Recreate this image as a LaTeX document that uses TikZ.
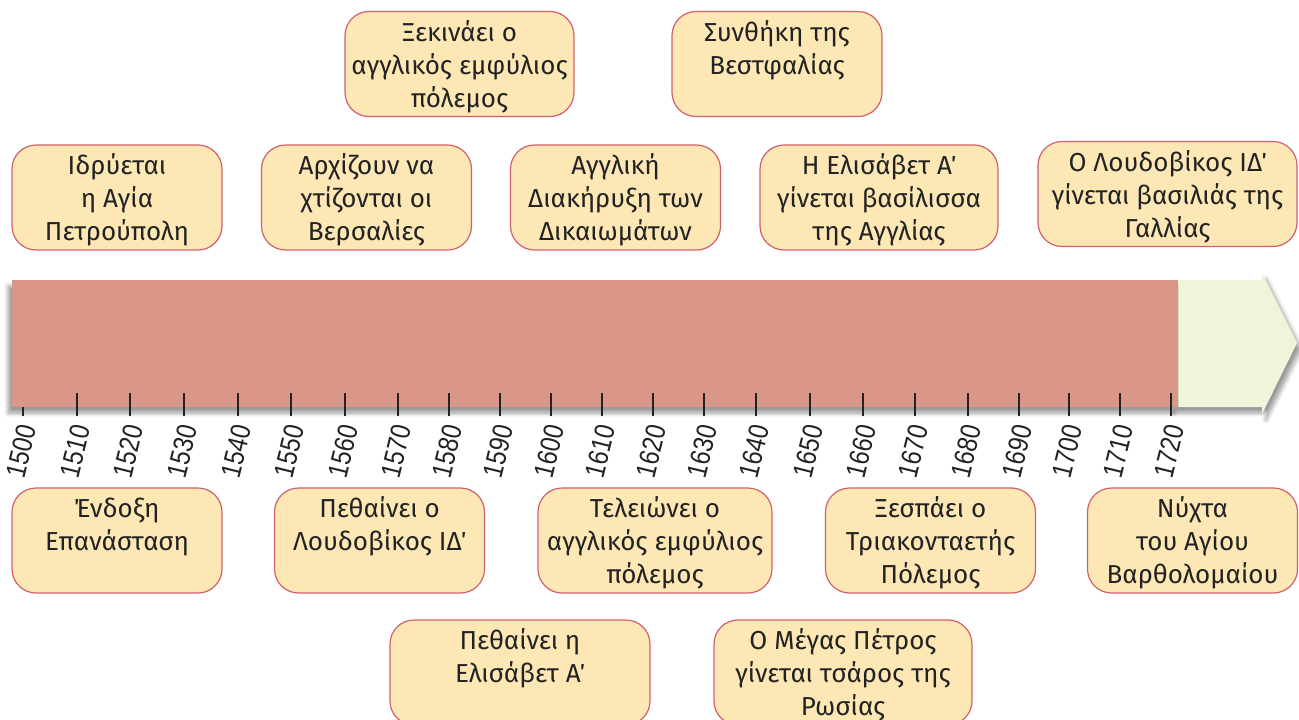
\documentclass[tikz,border=0pt]{standalone}
\usepackage{fontspec}
\setmainfont{Fira Sans}
\newfontfamily\yearfont{Liberation Sans}[FakeStretch=0.85]
\usetikzlibrary{positioning,shadows.blur}
\definecolor{barred}{HTML}{DB968A}
\definecolor{bargreen}{HTML}{EEF5DA}
\definecolor{boxfill}{HTML}{FDE8B5}
\definecolor{boxline}{HTML}{D0606C}
\definecolor{ink}{HTML}{222222}
\tikzset{
  evbox/.style = {draw=boxline, fill=boxfill, line width=0.6pt,
                  rounded corners=12pt, minimum width=#1,
                  minimum height=52.5pt, inner sep=0pt},
  evbox/.default = 105pt,
  evtext/.style = {align=center, text=ink, inner sep=0pt,
                   font=\fontsize{13}{16.5}\selectfont},
  tick/.style = {draw=ink, line width=0.7pt},
  year/.style = {font=\yearfont\fontsize{14}{14}\selectfont, text=ink,
                 anchor=east, yshift=-4.5pt, xshift=2.5pt, rotate=76,
                 inner sep=0pt}
}

\begin{document}
\begin{tikzpicture}[x=0.5pt, y=-0.5pt]
	\def \top{3.4pt}
	\useasboundingbox (0,0) rectangle (1299,719);

	% Bar
	\fill[bargreen, blur shadow={shadow xshift=2pt, shadow yshift=-3pt, shadow blur steps=6}]
		(1170,280) -- (1262,280) -- (1262,273) -- (1297,343) -- (1262,414) -- (1262,407) -- (1170,407) -- cycle;
	\fill[barred, blur shadow={shadow xshift=-2pt, shadow yshift=-3pt, shadow blur steps=6}]
		(12,280) rectangle (1178,407);

	% Ticks
	\draw[tick] (23,407)   -- (23,416)   node[year] (y1500) {1500};
	\draw[tick] (77,393)   -- (77,416)   node[year] (y1510) {1510};
	\draw[tick] (130,393)  -- (130,416)  node[year] (y1520) {1520};
	\draw[tick] (184,393)  -- (184,416)  node[year] (y1530) {1530};
	\draw[tick] (238,393)  -- (238,416)  node[year] (y1540) {1540};
	\draw[tick] (291,393)  -- (291,416)  node[year] (y1550) {1550};
	\draw[tick] (345,393)  -- (345,416)  node[year] (y1560) {1560};
	\draw[tick] (398,393)  -- (398,416)  node[year] (y1570) {1570};
	\draw[tick] (449,393)  -- (449,416)  node[year] (y1580) {1580};
	\draw[tick] (500,393)  -- (500,416)  node[year] (y1590) {1590};
	\draw[tick] (551,393)  -- (551,416)  node[year] (y1600) {1600};
	\draw[tick] (602,393)  -- (602,416)  node[year] (y1610) {1610};
	\draw[tick] (653,393)  -- (653,416)  node[year] (y1620) {1620};
	\draw[tick] (704,393)  -- (704,416)  node[year] (y1630) {1630};
	\draw[tick] (756,393)  -- (756,416)  node[year] (y1640) {1640};
	\draw[tick] (810,393)  -- (810,416)  node[year] (y1650) {1650};
	\draw[tick] (863,393)  -- (863,416)  node[year] (y1660) {1660};
	\draw[tick] (915,393)  -- (915,416)  node[year] (y1670) {1670};
	\draw[tick] (968,393)  -- (968,416)  node[year] (y1680) {1680};
	\draw[tick] (1019,393) -- (1019,416) node[year] (y1690) {1690};
	\draw[tick] (1069,393) -- (1069,416) node[year] (y1700) {1700};
	\draw[tick] (1120,393) -- (1120,416) node[year] (y1710) {1710};
	\draw[tick] (1171,393) -- (1171,416) node[year] (y1720) {1720};

	% Events above
	\node[evbox] (petroupoli) at (117,197.5) {};
	\node[evtext, below=\top of petroupoli.north] (t-petroupoli) {\strut Ιδρύεται\\η Αγία\\Πετρούπολη};
	\node[evbox] (versailles) at (366.5,197.5) {};
	\node[evtext, below=\top of versailles.north] (t-versailles) {\strut Αρχίζουν να\\χτίζονται οι\\Βερσαλίες};
	\node[evbox] (diakiryxi) at (615.5,197.5) {};
	\node[evtext, below=\top of diakiryxi.north] (t-diakiryxi) {\strut Αγγλική\\Διακήρυξη των\\Δικαιωμάτων};
	\node[evbox=119pt] (elisavet) at (879,197.5) {};
	\node[evtext, below=\top of elisavet.north] (t-elisavet) {\strut Η Ελισάβετ Α΄\\γίνεται βασίλισσα\\της Αγγλίας};
	\node[evbox=129.5pt] (loudovikos) at (1167.5,194) {};
	\node[evtext, below=\top of loudovikos.north] (t-loudovikos) {\strut Ο Λουδοβίκος ΙΔ΄\\γίνεται βασιλιάς της\\Γαλλίας};
	\node[evbox=114.5pt] (emfylios) at (459.5,64) {};
	\node[evtext, below=\top of emfylios.north] (t-emfylios) {\strut Ξεκινάει ο\\αγγλικός εμφύλιος\\πόλεμος};
	\node[evbox] (vestfalia) at (777,64) {};
	\node[evtext, below=\top of vestfalia.north] (t-vestfalia) {\strut Συνθήκη της\\Βεστφαλίας};

	% Events below
	\node[evbox] (endoxi) at (117,540.5) {};
	\node[evtext, below=\top of endoxi.north] (t-endoxi) {\strut Ένδοξη\\Επανάσταση};
	\node[evbox] (thanatos14) at (379.5,540.5) {};
	\node[evtext, below=\top of thanatos14.north] (t-thanatos14) {\strut Πεθαίνει ο\\Λουδοβίκος ΙΔ΄};
	\node[evbox=117pt] (telos) at (655,540.5) {};
	\node[evtext, below=\top of telos.north] (t-telos) {\strut Τελειώνει ο\\αγγλικός εμφύλιος\\πόλεμος};
	\node[evbox] (triakontaetis) at (930.5,540.5) {};
	\node[evtext, below=\top of triakontaetis.north] (t-triakontaetis) {\strut Ξεσπάει ο\\Τριακονταετής\\Πόλεμος};
	\node[evbox] (nyxta) at (1192.5,540.5) {};
	\node[evtext, below=\top of nyxta.north] (t-nyxta) {\strut Νύχτα\\του Αγίου\\Βαρθολομαίου};
	\node[evbox=130pt] (thanatosel) at (520,672.5) {};
	\node[evtext, below=\top of thanatosel.north] (t-thanatosel) {\strut Πεθαίνει η\\Ελισάβετ Α΄};
	\node[evbox=129pt] (petros) at (843,672.5) {};
	\node[evtext, below=\top of petros.north] (t-petros) {\strut Ο Μέγας Πέτρος\\γίνεται τσάρος της\\Ρωσίας};

\end{tikzpicture}
\end{document}
